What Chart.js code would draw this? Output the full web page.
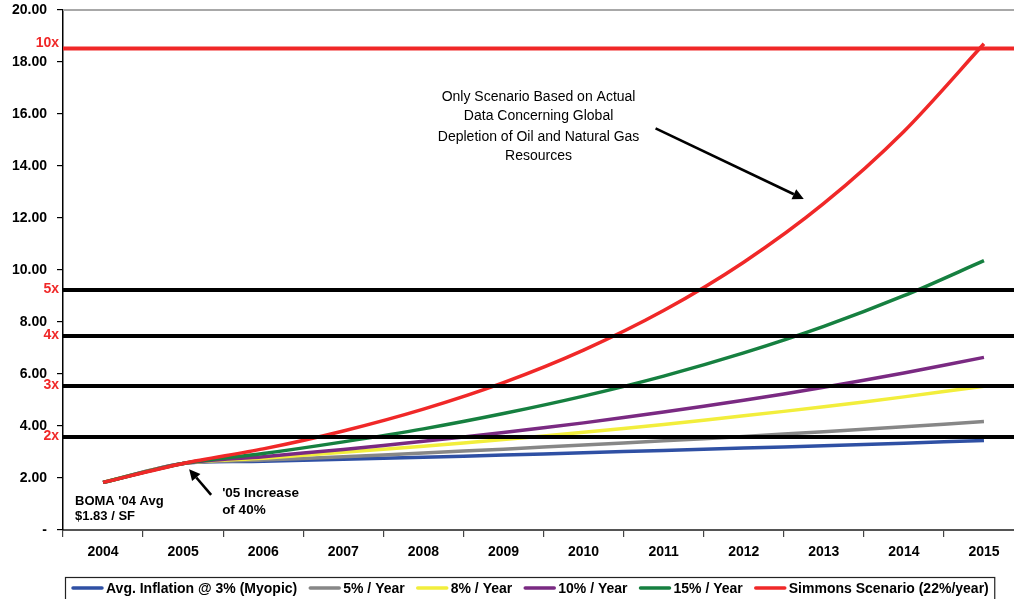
<!DOCTYPE html>
<html>
<head>
<meta charset="utf-8">
<script src="https://cdn.jsdelivr.net/npm/chart.js@4/dist/chart.umd.min.js"></script>
<style>
  html, body { margin: 0; padding: 0; background: #fff; overflow: hidden; }
  #wrap { position: relative; width: 1030px; height: 599px; }
</style>
</head>
<body>
<div id="wrap"><canvas id="c"></canvas></div>
<script>
// ---- data ----
const years = ['2004','2005','2006','2007','2008','2009','2010','2011','2012','2013','2014','2015'];
const inflation3 = [1.83, 2.56, 2.64, 2.72, 2.80, 2.88, 2.97, 3.06, 3.15, 3.24, 3.34, 3.44];
const growth5    = [1.83, 2.56, 2.69, 2.82, 2.96, 3.11, 3.27, 3.43, 3.60, 3.78, 3.97, 4.17];
const growth8    = [1.83, 2.56, 2.76, 2.99, 3.22, 3.48, 3.76, 4.06, 4.39, 4.74, 5.12, 5.53];
const growth10   = [1.83, 2.56, 2.82, 3.10, 3.41, 3.75, 4.12, 4.54, 4.99, 5.49, 6.04, 6.64];
const growth15   = [1.83, 2.56, 2.94, 3.39, 3.89, 4.48, 5.15, 5.92, 6.81, 7.83, 9.01, 10.36];
const simmons22  = [1.83, 2.56, 3.12, 3.81, 4.65, 5.67, 6.92, 8.44, 10.30, 12.56, 15.33, 18.70];
const seriesNames = ['Avg. Inflation @ 3% (Myopic)', '5% / Year', '8% / Year', '10% / Year', '15% / Year', 'Simmons Scenario (22%/year)'];
const seriesColors = ['#2F50A4', '#878787', '#F2EE3C', '#7A2A82', '#168040', '#F02828'];
const seriesValues = [inflation3, growth5, growth8, growth10, growth15, simmons22];
const multipleLabels = ['2x', '3x', '4x', '5x', '10x'];
const multipleValues = [3.58, 5.54, 7.46, 9.23, 18.52];
const multipleColors = ['#000', '#000', '#000', '#000', '#F02828'];
const yTicksMax = 20;

const datasets = seriesValues.map((vals, i) => ({
  label: seriesNames[i],
  data: vals,
  borderColor: seriesColors[i],
  backgroundColor: seriesColors[i],
  borderWidth: 3.5,
  pointRadius: 0,
  tension: 0.3,
  fill: false,
  order: seriesValues.length - 1 - i
}));

function arrow(ctx, x1, y1, x2, y2) {
  const ang = Math.atan2(y2 - y1, x2 - x1);
  const hl = 11, hw = 5.5;
  const bx = x2 - hl * Math.cos(ang), by = y2 - hl * Math.sin(ang);
  ctx.save();
  ctx.strokeStyle = '#000'; ctx.fillStyle = '#000'; ctx.lineWidth = 2.6;
  ctx.beginPath(); ctx.moveTo(x1, y1); ctx.lineTo(bx, by); ctx.stroke();
  ctx.beginPath();
  ctx.moveTo(x2, y2);
  ctx.lineTo(bx + hw * Math.sin(ang), by - hw * Math.cos(ang));
  ctx.lineTo(bx - hw * Math.sin(ang), by + hw * Math.cos(ang));
  ctx.closePath(); ctx.fill();
  ctx.restore();
}

const overlay = {
  id: 'overlay',
  beforeDatasetsDraw(chart) {
    const {ctx, chartArea: a, scales: {y}} = chart;
    ctx.save();
    ctx.strokeStyle = '#A8A8A8'; ctx.lineWidth = 2;
    const yt = y.getPixelForValue(yTicksMax);
    ctx.beginPath(); ctx.moveTo(a.left, yt); ctx.lineTo(chart.width, yt); ctx.stroke();
    ctx.restore();
  },
  afterDatasetsDraw(chart) {
    const {ctx, chartArea: a, scales: {x, y}} = chart;
    ctx.save();
    // multiple lines
    multipleValues.forEach((v, i) => {
      const py = y.getPixelForValue(v);
      ctx.strokeStyle = multipleColors[i]; ctx.lineWidth = 4;
      ctx.beginPath(); ctx.moveTo(a.left, py); ctx.lineTo(chart.width, py); ctx.stroke();
      ctx.fillStyle = '#F02828';
      ctx.font = 'bold 14px "Liberation Sans", Arial, sans-serif';
      ctx.textAlign = 'right'; ctx.textBaseline = 'middle';
      ctx.fillText(multipleLabels[i], a.left - 4, i === 4 ? py - 5 : py - 1);
    });
    // annotations
    ctx.fillStyle = '#000';
    ctx.font = 'bold 13px "Liberation Sans", Arial, sans-serif';
    ctx.textAlign = 'left'; ctx.textBaseline = 'middle';
    const x04 = x.getPixelForValue(0), x05 = x.getPixelForValue(1);
    ctx.fillText("BOMA '04 Avg", x04 - 28, y.getPixelForValue(1.1));
    ctx.fillText('$1.83 / SF', x04 - 28, y.getPixelForValue(0.53));
    ctx.font = 'bold 13.5px "Liberation Sans", Arial, sans-serif';
    ctx.fillText("'05 Increase", x05 + 39, y.getPixelForValue(1.42));
    ctx.fillText('of 40%', x05 + 39, y.getPixelForValue(0.77));
    arrow(ctx, x05 + 28, y.getPixelForValue(1.35), x05 + 6, y.getPixelForValue(2.34));

    ctx.font = '14px "Liberation Sans", Arial, sans-serif';
    ctx.textAlign = 'center';
    const cx = (x.getPixelForValue(6) + x.getPixelForValue(7)) / 2 - 85;
    const lines = ['Only Scenario Based on Actual', 'Data Concerning Global', 'Depletion of Oil and Natural Gas', 'Resources'];
    const ly = [16.63, 15.9, 15.12, 14.38];
    lines.forEach((t, i) => ctx.fillText(t, cx, y.getPixelForValue(ly[i])));
    arrow(ctx, cx + 117, y.getPixelForValue(15.45), x.getPixelForValue(9) - 20, y.getPixelForValue(12.73));

    // legend
    const top = 577, cyL = 588;
    ctx.font = 'bold 14px "Liberation Sans", Arial, sans-serif';
    ctx.textAlign = 'left'; ctx.textBaseline = 'middle';
    let px = 72;
    seriesNames.forEach((name, i) => {
      ctx.strokeStyle = seriesColors[i]; ctx.lineWidth = 3.5; ctx.lineCap = 'round';
      ctx.beginPath(); ctx.moveTo(px + 1, cyL); ctx.lineTo(px + 30, cyL); ctx.stroke();
      ctx.lineCap = 'butt';
      ctx.fillStyle = '#000';
      ctx.fillText(name, px + 34, cyL + 1);
      px += 34 + ctx.measureText(name).width + 12;
    });
    ctx.strokeStyle = '#222'; ctx.lineWidth = 1.2;
    ctx.strokeRect(65.5, top + 0.5, px - 12 + 6 - 65.5, 40);
    ctx.restore();
  }
};

new Chart(document.getElementById('c'), {
  type: 'line',
  data: { labels: years, datasets },
  options: {
    responsive: true,
    maintainAspectRatio: false,
    animation: false,
    layout: { padding: { top: 10, right: 6, bottom: 22, left: 0 } },
    plugins: { legend: { display: false }, tooltip: { enabled: false } },
    scales: {
      x: {
        offset: true,
        grid: { display: true, offset: true, drawOnChartArea: false, drawTicks: true, tickLength: 7, color: '#444', lineWidth: 1.2 },
        border: { display: true, color: '#555', width: 2 },
        ticks: { color: '#000', font: { family: '"Liberation Sans", Arial, sans-serif', size: 14, weight: 'bold' }, padding: 7, maxRotation: 0 },
        afterFit(s) { s.height = 47; s.paddingLeft = 0; s.paddingRight = 0; }
      },
      y: {
        min: 0, max: yTicksMax,
        grid: { display: true, drawOnChartArea: false, drawTicks: true, tickLength: 6, color: '#000', lineWidth: 1.2 },
        border: { display: true, color: '#000', width: 1.5 },
        ticks: {
          stepSize: 2, padding: 10, color: '#000',
          font: { family: '"Liberation Sans", Arial, sans-serif', size: 14, weight: 'bold' },
          callback: v => v === 0 ? '-' : Number(v).toFixed(2)
        },
        afterFit(s) { s.width = 63; s.paddingTop = 0; s.paddingBottom = 0; }
      }
    }
  },
  plugins: [overlay]
});
</script>
</body>
</html>
